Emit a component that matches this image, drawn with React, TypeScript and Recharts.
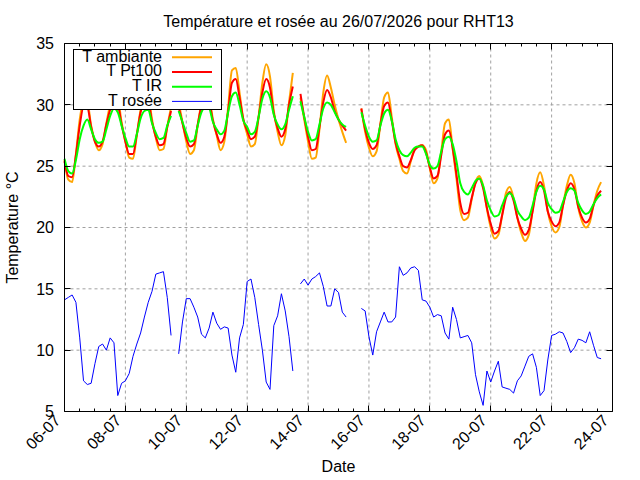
import React from "react";
import {
  LineChart,
  Line,
  XAxis,
  YAxis,
  ReferenceLine,
  Legend,
  Label,
} from "recharts";

// 3-hour samples from 06-07 00:00
const STEP_H = 3;

// T ambiante (°C)
const AMBIANTE = [
  25.5, 23.9, 23.7, 26.0, 28.8, 30.3, 30.2, 28.3,
  27.0, 26.3, 26.8, 28.5, 30.0, 30.8, 30.5, 28.6,
  27.0, 25.7, 25.6, 27.5, 29.6, 30.6, 30.7, 28.8,
  27.3, 26.3, 26.4, 28.2, 29.8, null, 30.2, 28.6,
  27.0, 26.0, 26.3, 28.3, 30.2, 31.0, 30.6, 28.8,
  27.5, 26.3, 27.0, 29.8, 32.8, 33.0, 31.0, 28.8,
  27.6, 26.6, 26.8, 29.0, 31.8, 33.3, 32.3, 29.5,
  27.8, 26.7, 27.5, 30.2, 32.6, null, 30.6, 28.8,
  27.0, 25.6, 25.7, 28.0, 31.0, 32.4, 31.4, 30.0,
  28.8, 27.8, 26.9, null, null, null, 29.7, 27.8,
  26.5, 25.8, 26.2, 28.4, 30.6, 31.0, 29.0, 26.8,
  25.6, 24.6, 24.4, 25.4, 26.4, 26.6, 26.7, 26.3,
  24.8, 23.6, 24.0, 26.2, 28.5, 28.8, 26.4, 24.0,
  21.4, 20.6, 20.8, 22.3, 23.7, 24.2, 23.4, 21.5,
  20.0, 19.1, 19.4, 21.0, 22.8, 23.3, 22.4, 20.8,
  19.6, 18.9, 19.4, 21.4, 23.6, 24.5, 23.4, 21.3,
  20.1, 19.6, 20.0, 21.8, 23.4, 24.3, 23.6, 21.6,
  20.5, 20.0, 20.4, 21.8, 23.0, 23.7,
];

// T Pt100 (°C)
const PT100 = [
  25.4, 24.2, 24.1, 25.9, 28.3, 29.8, 29.8, 28.2,
  27.0, 26.6, 27.0, 28.4, 29.6, 30.3, 30.0, 28.4,
  27.0, 26.0, 26.0, 27.6, 29.4, 30.2, 30.2, 28.6,
  27.4, 26.7, 26.8, 28.2, 29.5, null, 29.8, 28.5,
  27.3, 26.6, 26.8, 28.4, 29.9, 30.5, 30.2, 28.7,
  27.6, 26.9, 27.4, 29.5, 31.8, 32.1, 30.6, 28.8,
  27.9, 27.2, 27.4, 29.0, 31.0, 32.1, 31.4, 29.3,
  28.1, 27.4, 28.0, 30.0, 31.5, null, 30.9, 29.0,
  27.4, 26.3, 26.4, 28.2, 30.2, 31.2, 30.6, 29.5,
  28.8, 28.3, 27.9, null, null, null, 29.7, 28.0,
  26.9, 26.4, 26.7, 28.4, 29.9, 30.2, 28.7, 26.9,
  25.8, 25.0, 24.9, 25.5, 26.3, 26.6, 26.7, 26.1,
  24.9, 24.0, 24.2, 25.9, 27.6, 27.9, 26.5, 24.3,
  22.0, 21.1, 21.2, 22.4, 23.6, 24.0, 23.2, 21.6,
  20.3, 19.5, 19.7, 21.0, 22.4, 22.9, 22.2, 20.8,
  19.9, 19.4, 19.8, 21.3, 23.0, 23.7, 23.0, 21.3,
  20.5, 20.1, 20.4, 21.8, 23.0, 23.6, 23.1, 21.7,
  20.8, 20.4, 20.7, 21.8, 22.6, 23.0,
];

// T IR (°C)
const IR = [
  25.6, 24.6, 24.4, 25.5, 27.2, 28.3, 28.8, 28.0,
  27.2, 26.9, 27.0, 28.0, 29.1, 29.7, 29.4, 28.3,
  27.3, 26.6, 26.6, 27.6, 28.9, 29.5, 29.6, 28.5,
  27.7, 27.2, 27.3, 28.3, 29.1, null, 29.5, 28.6,
  27.7, 27.0, 27.1, 28.3, 29.4, 29.8, 29.7, 28.6,
  28.0, 27.6, 27.9, 29.4, 30.7, 31.0, 30.0, 28.7,
  28.2, 27.6, 27.8, 29.0, 30.5, 31.1, 30.6, 29.2,
  28.4, 28.0, 28.4, 29.6, 30.7, null, 30.3, 29.0,
  27.8, 27.1, 27.2, 28.4, 29.7, 30.2, 30.0, 29.4,
  28.8, 28.4, 28.2, null, null, null, 29.4, 28.3,
  27.4, 27.0, 27.1, 28.3, 29.3, 29.6, 28.7, 27.2,
  26.3, 25.9, 25.8, 26.1, 26.5, 26.6, 26.6, 26.0,
  25.1, 24.8, 25.0, 26.2, 27.2, 27.4, 26.8, 25.4,
  23.6, 22.9, 22.7, 23.2, 23.8, 24.0, 23.4, 22.2,
  21.4, 20.9, 21.0, 21.8, 22.5, 22.8, 22.4, 21.4,
  20.9, 20.6, 20.8, 21.8, 22.9, 23.4, 23.1, 22.0,
  21.5, 21.2, 21.3, 22.1, 22.9, 23.2, 23.0, 22.0,
  21.4, 21.1, 21.3, 21.9, 22.4, 22.7,
];

// T rosée (°C)
const ROSEE = [
  14.1, 14.3, 14.5, 13.9, 11.0, 7.5, 7.2, 7.3,
  8.9, 10.3, 10.5, 10.0, 11.0, 10.6, 6.3, 7.3,
  7.5, 8.1, 9.5, 10.5, 11.4, 12.7, 13.9, 14.8,
  16.2, 16.3, 16.4, 14.3, 11.2, null, 9.7, 12.3,
  14.2, 14.2, 13.5, 12.7, 11.3, 11.0, 11.8, 13.1,
  12.2, 11.7, 11.9, 11.8, 9.6, 8.2, 11.0, 12.1,
  15.6, 15.8, 14.3, 12.1, 10.0, 7.4, 6.8, 12.0,
  12.8, 14.6, 13.2, 11.1, 8.3, null, 15.4, 15.8,
  15.3, 15.8, 16.0, 16.3, 15.2, 13.6, 13.6, 15.0,
  14.7, 13.1, 12.7, null, null, null, 13.4, 13.2,
  11.1, 9.6, 11.5, 12.3, 13.1, 12.3, 12.3, 12.7,
  16.8, 16.1, 16.3, 16.7, 16.8, 16.5, 14.1, 14.0,
  13.5, 12.7, 12.9, 12.8, 11.4, 10.9, 13.5, 12.5,
  11.0, 11.1, 11.2, 10.6, 8.0, 6.6, 5.5, 8.3,
  7.4, 8.3, 9.1, 7.0, 6.9, 6.8, 6.5, 7.5,
  7.9, 8.7, 9.5, 9.7, 8.6, 6.3, 6.7, 9.2,
  11.2, 11.3, 11.5, 11.4, 10.7, 9.8, 10.2, 10.9,
  10.8, 10.6, 11.5, 10.4, 9.4, 9.3,
];

const DATE_LABELS = [
  "06-07", "08-07", "10-07", "12-07", "14-07",
  "16-07", "18-07", "20-07", "22-07", "24-07",
];
const Y_TICKS = [5, 10, 15, 20, 25, 30, 35];
const Y_GRID = [10, 15, 20, 25, 30];

const MAJOR_H = 48;
const MINOR_H = 12;
const END_H = (DATE_LABELS.length - 1) * MAJOR_H;
const X_TICKS = Array.from({ length: END_H / MINOR_H + 1 }, (_, i) => i * MINOR_H);
const X_GRID = DATE_LABELS.map((_, i) => i * MAJOR_H).slice(1, -1);

const TITLE = "Température et rosée au 26/07/2026 pour RHT13";
const FONT = "'Liberation Sans', Arial, sans-serif";

const SERIES = [
  { key: "amb", name: "T ambiante", color: "#ffa500", width: 2 },
  { key: "pt", name: "T Pt100", color: "#ff0000", width: 2 },
  { key: "ir", name: "T IR", color: "#00ff00", width: 2 },
  { key: "rosee", name: "T rosée", color: "#0000ff", width: 1 },
];

const W = 640;
const H = 480;
const PLOT = { left: 64.5, top: 43.5, right: 612.5, bottom: 411.5 };

const rows = AMBIANTE.map((v, i) => ({
  h: i * STEP_H,
  amb: v,
  pt: PT100[i],
  ir: IR[i],
  rosee: ROSEE[i],
}));

const crisp = (v: number) => Math.round(v - 0.5) + 0.5;

function XTick(props: any) {
  const { x, y, payload } = props;
  const h = payload.value as number;
  const major = h % MAJOR_H === 0;
  const len = major ? 6 : 3;
  const cx = crisp(x);
  const ax = x - 3;
  const ay = y + 10;
  return (
    <g>
      <line x1={cx} x2={cx} y1={y} y2={y - len} stroke="#000" />
      <line x1={cx} x2={cx} y1={PLOT.top} y2={PLOT.top + len} stroke="#000" />
      {major && (
        <text
          x={ax}
          y={ay}
          transform={`rotate(-45 ${ax} ${ay})`}
          textAnchor="end"
          fontSize={16}
          fontFamily={FONT}
          fill="#000"
        >
          {DATE_LABELS[h / MAJOR_H]}
        </text>
      )}
    </g>
  );
}

function YTick(props: any) {
  const { x, y, payload } = props;
  const cy = crisp(y);
  return (
    <g>
      <line x1={x} x2={x + 6} y1={cy} y2={cy} stroke="#000" />
      <line x1={PLOT.right - 6} x2={PLOT.right} y1={cy} y2={cy} stroke="#000" />
      <text
        x={x - 10.5}
        y={y}
        dy="0.36em"
        textAnchor="end"
        fontSize={16}
        fontFamily={FONT}
        fill="#000"
      >
        {payload.value}
      </text>
    </g>
  );
}

function renderKey() {
  return (
    <svg width={150} height={62} style={{ display: "block" }}>
      <rect x={0.5} y={0.5} width={148} height={60} fill="#fff" stroke="#000" />
      {SERIES.map((s, k) => (
        <g key={s.key}>
          <text
            x={89}
            y={12.7 + 14.7 * k}
            textAnchor="end"
            fontSize={16}
            fontFamily={FONT}
            fill="#000"
          >
            {s.name}
          </text>
          <line
            x1={99}
            x2={139}
            y1={8.3 + 14.7 * k}
            y2={8.3 + 14.7 * k}
            stroke={s.color}
            strokeWidth={s.width}
          />
        </g>
      ))}
    </svg>
  );
}

function YLabel(props: any) {
  const { viewBox } = props;
  const x = 18;
  const y = viewBox.y + viewBox.height / 2;
  return (
    <text
      x={x}
      y={y}
      transform={`rotate(-90 ${x} ${y})`}
      textAnchor="middle"
      fontSize={16}
      fontFamily={FONT}
      fill="#000"
    >
      Temperature °C
    </text>
  );
}

export default function App() {
  return (
    <div style={{ position: "absolute", left: 0, top: 0, width: W, height: H, background: "#fff" }}>
      <svg width={W} height={40} style={{ position: "absolute", left: 0, top: 0 }}>
        <text
          x={(PLOT.left + PLOT.right) / 2}
          y={26.7}
          textAnchor="middle"
          fontSize={16}
          fontFamily={FONT}
          fill="#000"
        >
          {TITLE}
        </text>
      </svg>
      <LineChart
        width={W}
        height={H}
        data={rows}
        margin={{ top: PLOT.top, right: W - PLOT.right, left: 0, bottom: 0 }}
      >
        <XAxis
          dataKey="h"
          type="number"
          domain={[0, END_H]}
          ticks={X_TICKS}
          interval={0}
          height={H - PLOT.bottom}
          tickSize={0}
          tickMargin={0}
          tick={<XTick />}
          axisLine={{ stroke: "#000" }}
        >
          <Label
            value="Date"
            position="insideBottom"
            offset={8}
            fontSize={16}
            fontFamily={FONT}
            fill="#000"
          />
        </XAxis>
        <YAxis
          type="number"
          domain={[5, 35]}
          ticks={Y_TICKS}
          interval={0}
          width={PLOT.left}
          tickSize={0}
          tickMargin={0}
          tick={<YTick />}
          axisLine={{ stroke: "#000" }}
          label={<YLabel />}
        />
        {X_GRID.map((h) => (
          <ReferenceLine
            key={`gx${h}`}
            x={h}
            stroke="#a0a0a0"
            strokeDasharray="3 3"
            zIndex={-10}
          />
        ))}
        {Y_GRID.map((v) => (
          <ReferenceLine
            key={`gy${v}`}
            y={v}
            stroke="#a0a0a0"
            strokeDasharray="3 3"
            zIndex={-10}
          />
        ))}
        <ReferenceLine y={35} stroke="#000" />
        <ReferenceLine x={END_H} stroke="#000" />
        {SERIES.map((s) => (
          <Line
            key={s.key}
            dataKey={s.key}
            name={s.name}
            type={s.key === "rosee" ? "linear" : "monotone"}
            stroke={s.color}
            strokeWidth={s.width}
            dot={false}
            activeDot={false}
            isAnimationActive={false}
          />
        ))}
        <Legend
          layout="vertical"
          align="center"
          verticalAlign="middle"
          content={renderKey}
          wrapperStyle={{ left: 73, top: 49, width: 150, height: 62 }}
        />
      </LineChart>
    </div>
  );
}
